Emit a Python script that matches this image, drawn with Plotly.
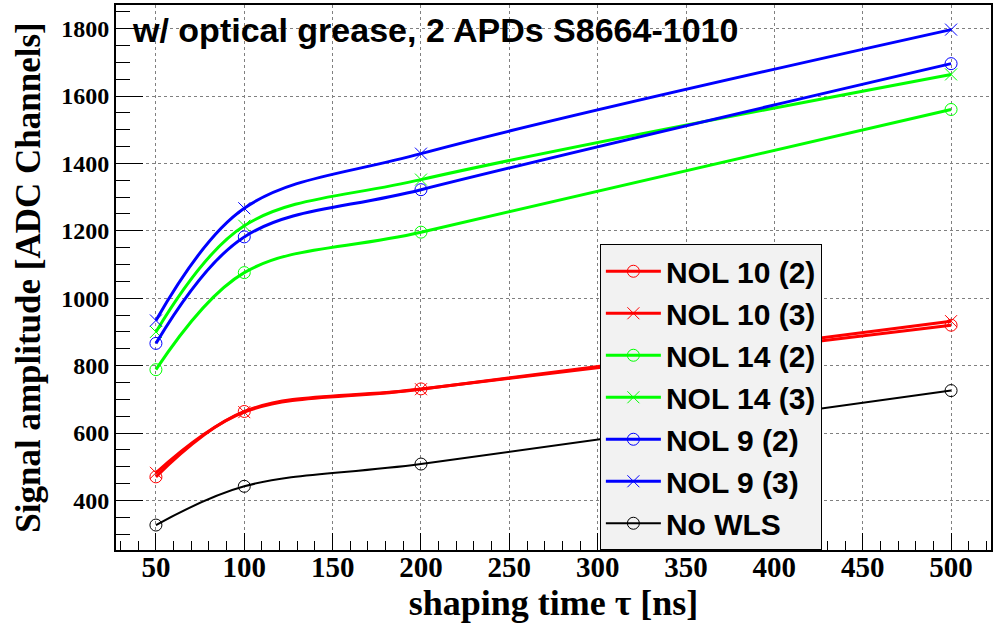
import plotly.graph_objects as go

# Shaping times [ns]
shaping_time = [50, 100, 200, 500]

# Signal amplitude [ADC channels] per configuration
nol10_2 = [470, 664, 731, 920]
nol10_3 = [482, 662, 730, 932]
nol14_2 = [788, 1076, 1196, 1560]
nol14_3 = [900, 1215, 1352, 1664]
nol9_2 = [866, 1182, 1322, 1696]
nol9_3 = [934, 1267, 1429, 1797]
no_wls = [327, 442, 508, 726]

series = [
    ("NOL 10 (2)", nol10_2, "#ff0000", "circle-open"),
    ("NOL 10 (3)", nol10_3, "#ff0000", "x-thin-open"),
    ("NOL 14 (2)", nol14_2, "#00ff00", "circle-open"),
    ("NOL 14 (3)", nol14_3, "#00ff00", "x-thin-open"),
    ("NOL 9 (2)", nol9_2, "#0000ff", "circle-open"),
    ("NOL 9 (3)", nol9_3, "#0000ff", "x-thin-open"),
    ("No WLS", no_wls, "#000000", "circle-open"),
]

fig = go.Figure()
for i, (name, vals, color, symbol) in enumerate(series):
    is_black = color == "#000000"
    fig.add_trace(go.Scatter(
        x=shaping_time, y=vals, name=name,
        mode="lines+markers",
        legendgroup=f"g{i}",
        line=dict(color=color, width=2 if is_black else 3, shape="spline", smoothing=1.0),
        marker=dict(symbol=symbol, size=12, color=color,
                    line=dict(color=color, width=1)),
    ))

serif = "Liberation Serif"
sans = "Liberation Sans"

fig.update_layout(
    width=997, height=623,
    margin=dict(l=116, r=6, t=3, b=73),
    paper_bgcolor="white", plot_bgcolor="white",
    showlegend=True,
    legend=dict(
        x=0.553, y=0.561, xanchor="left", yanchor="top",
        bgcolor="#f2f2f2", bordercolor="black", borderwidth=1,
        font=dict(family=sans, size=30, color="black", weight="bold"),
        traceorder="grouped", tracegroupgap=0,
        itemwidth=55,
    ),
    xaxis=dict(
        range=[27.4, 522.6],
        tickmode="array", tickvals=[50, 100, 150, 200, 250, 300, 350, 400, 450, 500],
        ticks="inside", ticklen=17, tickwidth=1, tickcolor="black",
        minor=dict(dtick=10, ticks="inside", ticklen=9, tickcolor="black", showgrid=False),
        showline=True, linecolor="black", linewidth=2, mirror=True,
        showgrid=True, gridcolor="#808080", griddash="dot", gridwidth=1,
        zeroline=False,
        ticklabelstandoff=-10,
        tickfont=dict(family=serif, size=29, color="black", weight="bold"),
        title=dict(text="shaping time τ [ns]", standoff=4,
                   font=dict(family=serif, size=36, color="black", weight="bold")),
    ),
    yaxis=dict(
        range=[253, 1870],
        tickmode="array", tickvals=[400, 600, 800, 1000, 1200, 1400, 1600, 1800],
        ticks="inside", ticklen=27, tickwidth=1, tickcolor="black",
        minor=dict(dtick=50, ticks="inside", ticklen=14, tickcolor="black", showgrid=False),
        showline=True, linecolor="black", linewidth=2, mirror=True,
        showgrid=True, gridcolor="#808080", griddash="dot", gridwidth=1,
        zeroline=False,
        tickfont=dict(family=serif, size=24, color="black", weight="bold"),
        title=dict(text="Signal amplitude [ADC Channels]", standoff=10,
                   font=dict(family=serif, size=35, color="black", weight="bold")),
    ),
    annotations=[dict(
        text="w/ optical grease, 2 APDs S8664-1010",
        xref="paper", yref="paper", x=0.016, y=0.954,
        xanchor="left", yanchor="middle", showarrow=False,
        font=dict(family=sans, size=34, color="black", weight="bold"),
    )],
)

fig.write_html("out.html")
